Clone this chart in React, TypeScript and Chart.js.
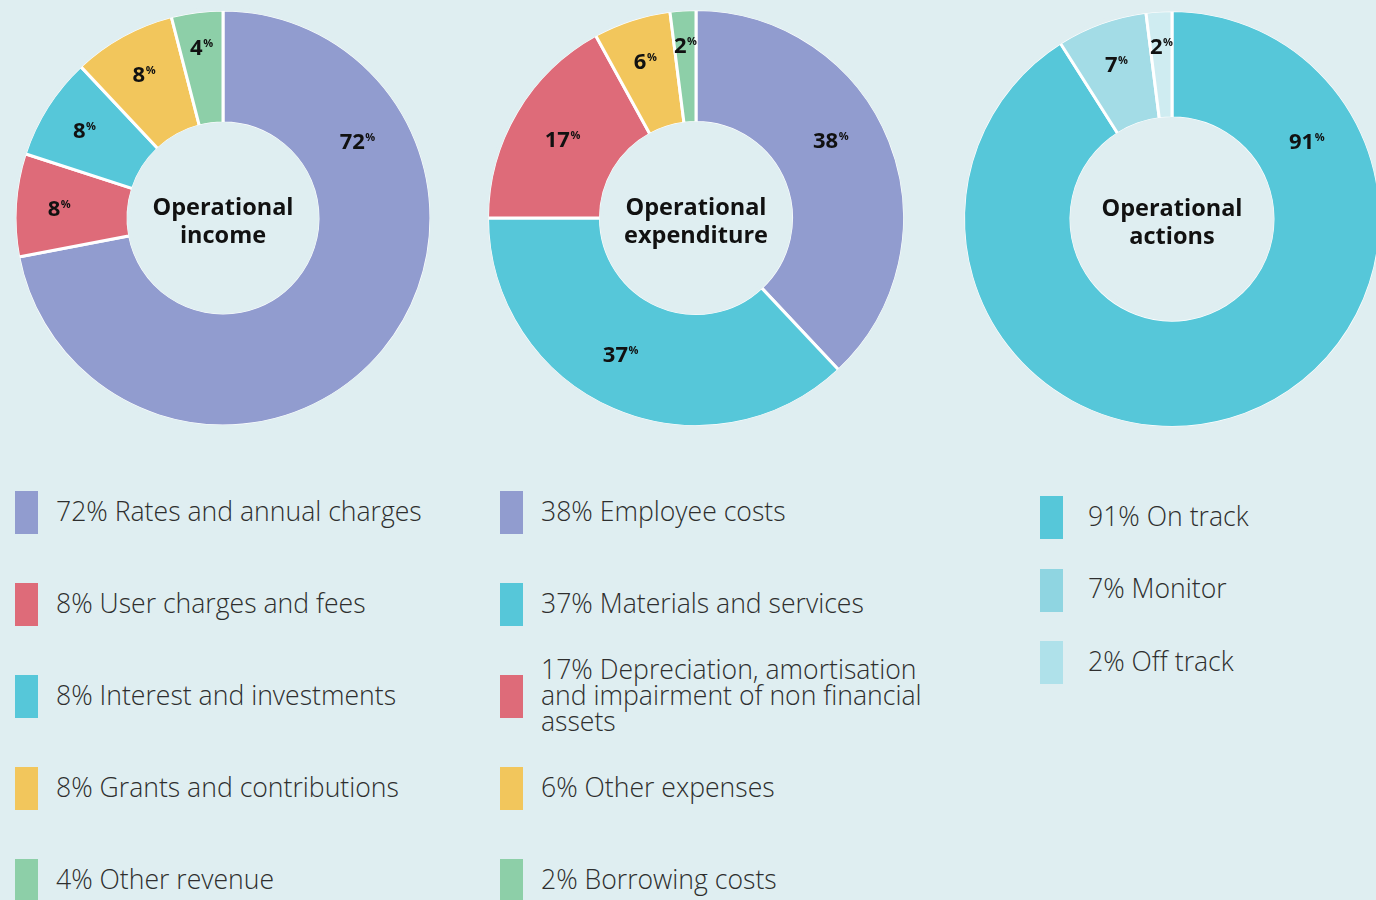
import React, { useEffect, useRef } from "react";
import { Chart, registerables } from "chart.js";

Chart.register(...registerables);

// ---------- data ----------
const incomeLabels = [
  "Rates and annual charges",
  "User charges and fees",
  "Interest and investments",
  "Grants and contributions",
  "Other revenue",
];
const incomeValues = [72, 8, 8, 8, 4];

const expenditureLabels = [
  "Employee costs",
  "Materials and services",
  "Depreciation, amortisation and impairment of non financial assets",
  "Other expenses",
  "Borrowing costs",
];
const expenditureValues = [38, 37, 17, 6, 2];

const actionsLabels = ["On track", "Monitor", "Off track"];
const actionsValues = [91, 7, 2];

const incomeTitle = ["Operational", "income"];
const expenditureTitle = ["Operational", "expenditure"];
const actionsTitle = ["Operational", "actions"];

// ---------- styles ----------
const BG = "#DFEEF1";
const PURPLE = "#919CCF";
const RED = "#DE6B79";
const CYAN = "#56C7D9";
const YELLOW = "#F2C65C";
const GREEN = "#8DCFA8";

const incomeColors = [PURPLE, RED, CYAN, YELLOW, GREEN];
const expenditureColors = [PURPLE, CYAN, RED, YELLOW, GREEN];
const actionsColors = [CYAN, "#A3DCE6", "#CFECF1"];
const actionsLegendColors = [CYAN, "#8FD5E1", "#AFE1EA"];

const FONT = '"Open Sans", "Noto Sans", sans-serif';

type DonutProps = {
  values: number[];
  labels: string[];
  colors: string[];
  title: string[];
  cx: number;
  cy: number;
  radius: number;
  inner: number;
};

const CANVAS = 430;

const donutPlugin = {
  id: "donutDecor",
  afterDatasetsDraw(chart: any) {
    const opts = chart.options.plugins.donutDecor || {};
    const meta = chart.getDatasetMeta(0);
    const arcs = meta.data;
    if (!arcs.length) return;
    const ctx = chart.ctx;
    const { x, y, outerRadius, innerRadius } = arcs[0].getProps(
      ["x", "y", "outerRadius", "innerRadius"],
      true
    );
    // cover the white outline on the outer and inner rims
    ctx.save();
    ctx.strokeStyle = BG;
    ctx.lineWidth = 4;
    ctx.beginPath();
    ctx.arc(x, y, outerRadius + 1, 0, Math.PI * 2);
    ctx.stroke();
    ctx.beginPath();
    ctx.arc(x, y, innerRadius - 1, 0, Math.PI * 2);
    ctx.stroke();

    // centre title
    ctx.fillStyle = "#111";
    ctx.textAlign = "center";
    ctx.textBaseline = "alphabetic";
    ctx.font = `bold 23.5px ${FONT}`;
    const title: string[] = opts.title || [];
    ctx.fillText(title[0] || "", x, y - 3);
    ctx.fillText(title[1] || "", x, y + 24.5);

    // slice labels
    const values: number[] = chart.data.datasets[0].data;
    arcs.forEach((arc: any, i: number) => {
      const p = arc.getProps(["startAngle", "endAngle"], true);
      let ang = (p.startAngle + p.endAngle) / 2;
      if (i === 0) ang = -Math.PI / 2 + Math.PI / 3; // big slice label at 60deg
      else if (values[i] > 30) ang += 0.1;
      const v = values[i];
      const frac = v < 5 ? 0.83 : v < 12 ? 0.79 : 0.745;
      const r = outerRadius * frac;
      const lx = x + Math.cos(ang) * r;
      const ly = y + Math.sin(ang) * r;
      const num = String(v);
      ctx.font = `bold 22px ${FONT}`;
      const w1 = ctx.measureText(num).width;
      ctx.font = `bold 11px ${FONT}`;
      const w2 = ctx.measureText("%").width;
      const sx = lx - (w1 + w2) / 2;
      ctx.fillStyle = "#111";
      ctx.textAlign = "left";
      ctx.font = `bold 22px ${FONT}`;
      ctx.fillText(num, sx, ly + 8);
      ctx.font = `bold 11px ${FONT}`;
      ctx.fillText("%", sx + w1 + 0.5, ly);
    });
    ctx.restore();
  },
};

function Donut({ values, labels, colors, title, cx, cy, radius, inner }: DonutProps) {
  const ref = useRef<HTMLCanvasElement | null>(null);
  useEffect(() => {
    if (!ref.current) return;
    const chart = new Chart(ref.current, {
      type: "doughnut",
      data: {
        labels,
        datasets: [
          {
            data: values,
            backgroundColor: colors,
            borderColor: "#ffffff",
            borderWidth: 3,
          },
        ],
      },
      options: {
        responsive: false,
        animation: false,
        events: [],
        radius,
        cutout: `${(inner / radius) * 100}%`,
        layout: { padding: 0 },
        plugins: {
          legend: { display: false },
          tooltip: { enabled: false },
          // @ts-ignore
          donutDecor: { title },
        },
      } as any,
      plugins: [donutPlugin],
    });
    return () => chart.destroy();
  }, []);
  return (
    <canvas
      ref={ref}
      width={CANVAS}
      height={CANVAS}
      style={{
        position: "absolute",
        left: cx - CANVAS / 2,
        top: cy - CANVAS / 2,
        width: CANVAS,
        height: CANVAS,
      }}
    />
  );
}

type LegendProps = {
  values: number[];
  labels: string[];
  colors: string[];
  swatchX: number;
  textX: number;
  firstTop: number;
  step: number;
  textWidth: number;
};

function Legend({ values, labels, colors, swatchX, textX, firstTop, step, textWidth }: LegendProps) {
  return (
    <>
      {values.map((v, i) => (
        <div
          key={i}
          style={{
            position: "absolute",
            left: swatchX,
            top: firstTop + i * step,
            height: 43,
            display: "flex",
            alignItems: "center",
          }}
        >
          <div style={{ width: 23, height: 43, background: colors[i], flex: "none" }} />
          <div
            style={{
              marginLeft: textX - swatchX - 23,
              width: textWidth,
              fontFamily: FONT,
              fontWeight: 300,
              fontSize: 26.6,
              lineHeight: "26px",
              color: "#2e2e2e",
              whiteSpace: "normal",
              marginTop: -4,
            }}
          >
            {`${v}% ${labels[i]}`}
          </div>
        </div>
      ))}
    </>
  );
}

export default function App() {
  useEffect(() => {
    document.body.style.margin = "0";
    document.body.style.background = BG;
  }, []);
  return (
    <div
      style={{
        position: "relative",
        width: 1376,
        height: 900,
        overflow: "hidden",
        background: BG,
      }}
    >
      <Donut
        values={incomeValues}
        labels={incomeLabels}
        colors={incomeColors}
        title={incomeTitle}
        cx={223}
        cy={218}
        radius={208}
        inner={95}
      />
      <Donut
        values={expenditureValues}
        labels={expenditureLabels}
        colors={expenditureColors}
        title={expenditureTitle}
        cx={696}
        cy={218}
        radius={208.5}
        inner={95.5}
      />
      <Donut
        values={actionsValues}
        labels={actionsLabels}
        colors={actionsColors}
        title={actionsTitle}
        cx={1171.5}
        cy={218.5}
        radius={208.5}
        inner={101}
      />
      <Legend
        values={incomeValues}
        labels={incomeLabels}
        colors={incomeColors}
        swatchX={15}
        textX={56}
        firstTop={491}
        step={92}
        textWidth={420}
      />
      <Legend
        values={expenditureValues}
        labels={expenditureLabels}
        colors={expenditureColors}
        swatchX={500}
        textX={541}
        firstTop={491}
        step={92}
        textWidth={392}
      />
      <Legend
        values={actionsValues}
        labels={actionsLabels}
        colors={actionsLegendColors}
        swatchX={1040}
        textX={1088}
        firstTop={496}
        step={72.5}
        textWidth={280}
      />
    </div>
  );
}
